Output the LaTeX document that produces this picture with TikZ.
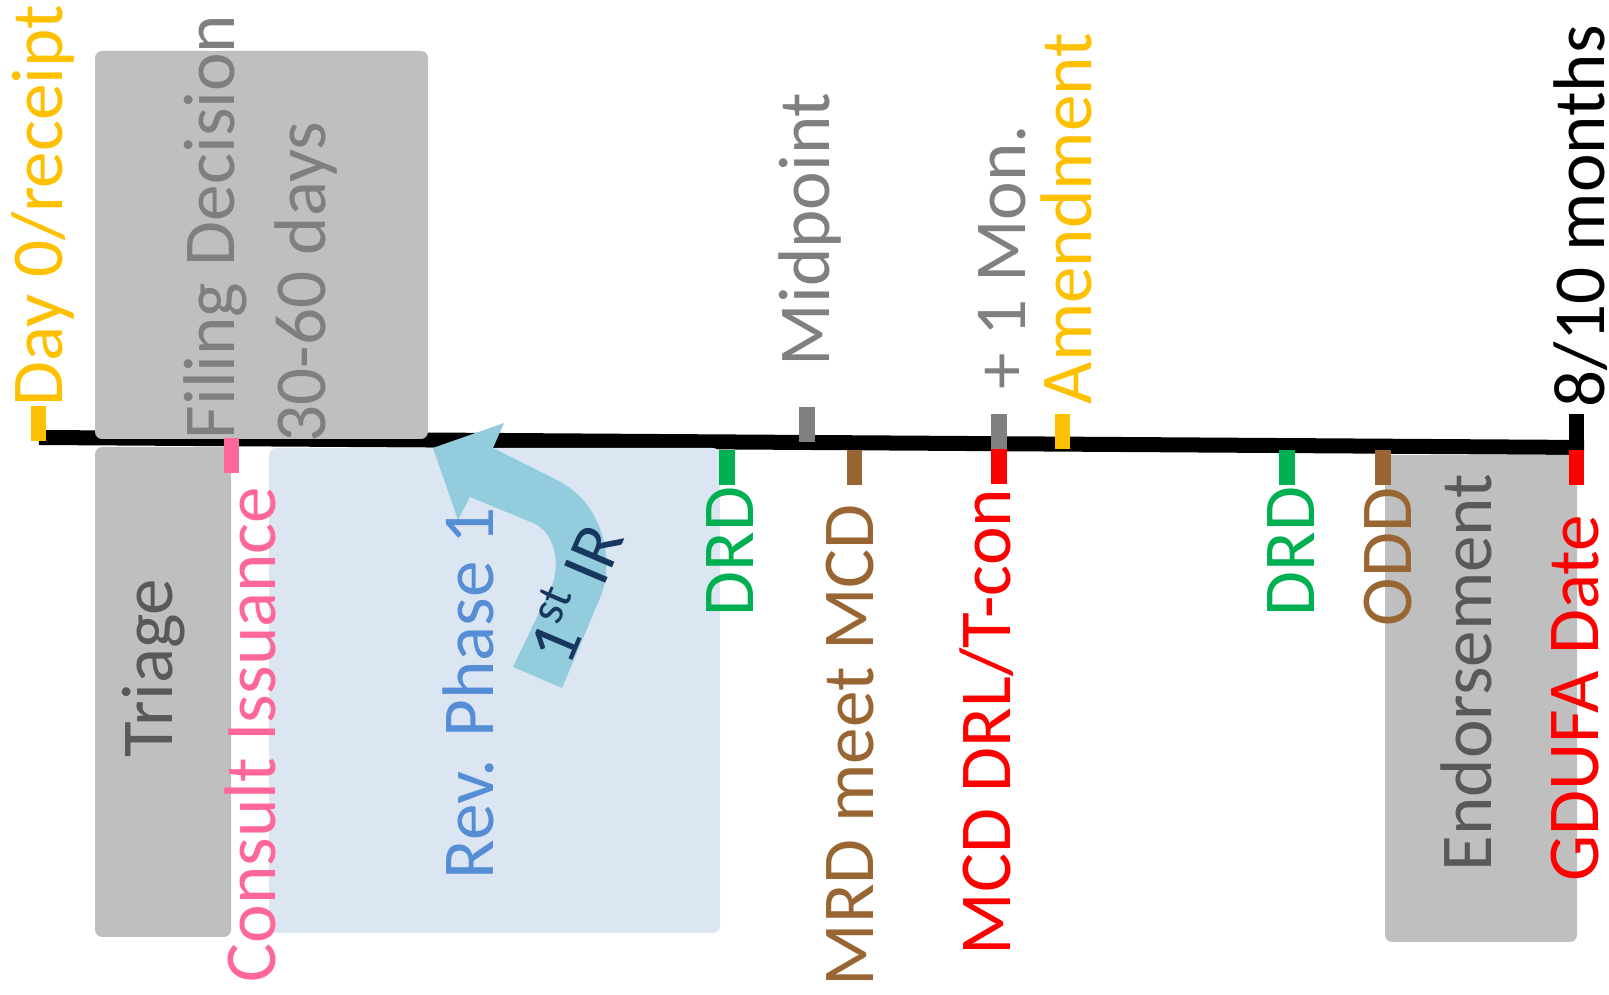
\documentclass[tikz,border=0pt]{standalone}
\usepackage{fontspec}
\setmainfont{Carlito}
\usepackage{tikz}
\usepackage{xcolor}

\definecolor{receiptyellow}{HTML}{FFC000}
\definecolor{boxgray}{HTML}{BFBFBF}
\definecolor{filinggray}{HTML}{7F7F7F}
\definecolor{stagegray}{HTML}{595959}
\definecolor{consultpink}{HTML}{FF6699}
\definecolor{phaseblue}{HTML}{558ED5}
\definecolor{phasefill}{HTML}{DCE6F2}
\definecolor{irnavy}{HTML}{17375E}
\definecolor{irarrow}{HTML}{93CDDD}
\definecolor{drdgreen}{HTML}{00B050}
\definecolor{mrdbrown}{HTML}{996633}
\definecolor{mcdred}{HTML}{FF0000}
\definecolor{midgray}{HTML}{808080}

\begin{document}
\begin{tikzpicture}[x=0.01cm, y=-0.01cm,
		lbl/.style={rotate=90, anchor=base west, inner sep=0pt, font=\fontsize{20.8}{25.9}\selectfont},
		tickmark/.style={rectangle, inner sep=0pt, minimum width=0.155cm, minimum height=0.35cm, anchor=north}]
				\useasboundingbox (0,0) rectangle (1609,995);
				\coordinate (start) at (39,437.5);
				\coordinate (finish) at (1584,447.5);
				\draw[line width=0.15cm] (start) -- (finish);
				\fill[boxgray, rounded corners=2pt] (95,51) rectangle (428,439);
				\fill[boxgray, rounded corners=2pt] (95,447) rectangle (231,937);
				\fill[phasefill, rounded corners=2pt] (269,448) rectangle (720,933);
				\fill[boxgray, rounded corners=2pt] (1385,455) rectangle (1577,942);
				\node[tickmark, fill=receiptyellow] (dayzerotick) at (38.5,405) {};
				\node[tickmark, fill=midgray] (midtick) at (807,406) {};
				\node[tickmark, fill=midgray] (montick) at (999,413) {};
				\node[tickmark, fill=receiptyellow] (amendtick) at (1062.5,413) {};
				\node[tickmark, fill=black, minimum height=0.42cm] (endtick) at (1576.5,413) {};
				\node[tickmark, fill=consultpink] (consulttick) at (231.5,437) {};
				\node[tickmark, fill=drdgreen] (drdonetick) at (727,449) {};
				\node[tickmark, fill=mrdbrown] (mrdtick) at (854.5,449) {};
				\node[tickmark, fill=mcdred] (mcdtick) at (999,448) {};
				\node[tickmark, fill=drdgreen] (drdtwotick) at (1287,449) {};
				\node[tickmark, fill=mrdbrown] (oddtick) at (1383,449) {};
				\node[tickmark, fill=mcdred] (gdufatick) at (1576.5,449) {};
				\fill[irarrow] (562,688) -- (600,598) .. controls (614,566) and (607,505) .. (557,480) -- (493,448) -- (504,423) -- (433,448) -- (458,520) -- (470,497) -- (533,523) .. controls (555,532) and (562,565) .. (550,590) -- (513,667) -- cycle;
				\node[rotate=67, inner sep=0pt, text=irnavy, font=\fontsize{19.8}{23}\selectfont] (firstir) at (571,592) {1\textsuperscript{st} IR};
				\node[lbl, text=receiptyellow] (dayzero) at (62,407) {Day 0/receipt};
				\node[lbl, text=filinggray] (filing) at (234,440) {Filing Decision};
				\node[lbl, text=filinggray] (filingdays) at (325,443) {30-60 days};
				\node[lbl, text=stagegray] (triage) at (172,758) {Triage};
				\node[lbl, text=consultpink] (consult) at (275,983) {Consult Issuance};
				\node[lbl, text=phaseblue] (revphase) at (493,880) {Rev. Phase 1};
				\node[lbl, text=drdgreen] (drdone) at (753,617) {DRD};
				\node[lbl, text=mrdbrown] (mrd) at (873,987) {MRD meet MCD};
				\node[lbl, text=mcdred] (mcd) at (1010,956) {MCD DRL/T-con};
				\node[lbl, text=midgray] (midpoint) at (829,367) {Midpoint};
				\node[lbl, text=midgray] (onemon) at (1025,390) {+ 1 Mon.};
				\node[lbl, text=receiptyellow] (amend) at (1091,405) {Amendment};
				\node[lbl] (months) at (1604,408) {8/10 months};
				\node[lbl, text=drdgreen] (drdtwo) at (1314,617) {DRD};
				\node[lbl, text=mrdbrown] (odd) at (1411,627) {ODD};
				\node[lbl, text=stagegray] (endorse) at (1491,872) {Endorsement};
				\node[lbl, text=mcdred] (gdufa) at (1598,882) {GDUFA Date};
			\end{tikzpicture}
\end{document}
